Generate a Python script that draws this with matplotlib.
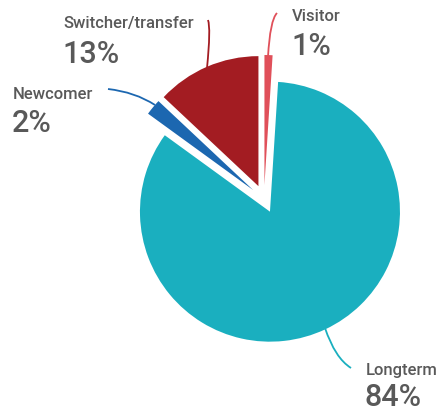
import matplotlib.pyplot as plt
from matplotlib.path import Path
from matplotlib.patches import PathPatch

# data, clockwise from 12 o'clock
labels = ['Visitor', 'Longterm', 'Newcomer', 'Switcher/transfer']
shares = [1, 84, 2, 13]
colors = ['#e0505a', '#1aafbf', '#1c67b0', '#a31c22']

W, H = 438, 412
TEXT = '#595959'
FONT = 'Roboto'

fig = plt.figure(figsize=(W / 100, H / 100), dpi=100)
ax = fig.add_axes([0, 0, 1, 1])
ax.set_xlim(0, W)
ax.set_ylim(0, H)
ax.set_aspect('equal')
ax.axis('off')

# explode is in data units here (pixels)
ax.pie(shares, colors=colors, startangle=90, counterclock=False,
       center=(264, H - 199), radius=130, explode=[14] * len(shares),
       wedgeprops=dict(linewidth=0))
ax.set_xlim(0, W)
ax.set_ylim(0, H)

# label anchors (left x, name baseline, percent baseline) in pixel coords from top
label_pos = {
    'Visitor': (292, 21, 55),
    'Longterm': (366, 375, 406),
    'Newcomer': (13, 99, 132),
    'Switcher/transfer': (63, 28, 63),
}
for name, val in zip(labels, shares):
    x, yn, yp = label_pos[name]
    ax.text(x, H - yn, name, fontsize=12, color=TEXT, va='baseline', ha='left',
            family=FONT, fontweight='medium')
    ax.text(x - 1, H - yp, f'{val}%', fontsize=22, color=TEXT, va='baseline', ha='left',
            family=FONT, fontweight='medium')

# curved leader lines (quadratic beziers)
leaders = {
    'Visitor': [(268, 57), (270, 20), (277, 13)],
    'Longterm': [(325, 328), (335, 358), (351, 368)],
    'Newcomer': [(155, 105), (135, 92), (108, 89)],
    'Switcher/transfer': [(207, 68), (211, 28), (208, 20)],
}
for name, col in zip(labels, colors):
    pts = [(px, H - py) for px, py in leaders[name]]
    path = Path(pts, [Path.MOVETO, Path.CURVE3, Path.CURVE3])
    ax.add_patch(PathPatch(path, fc='none', ec=col, lw=1.3))

fig.savefig('out.png', dpi=100)
